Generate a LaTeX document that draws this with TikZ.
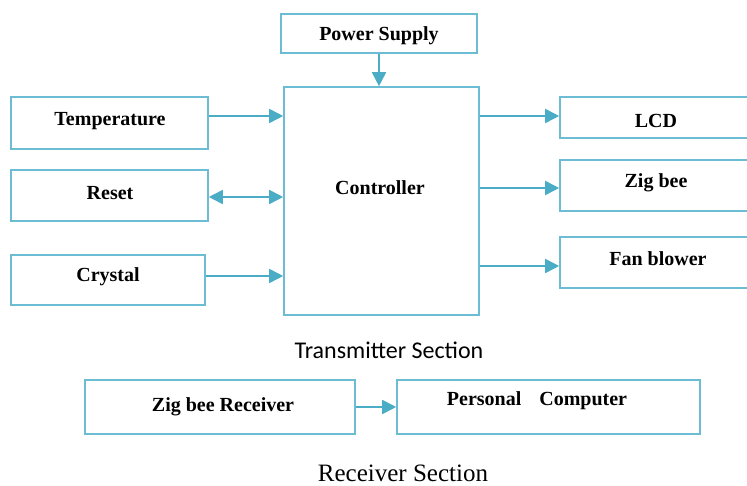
\documentclass[tikz,border=0pt]{standalone}
\usepackage{fontspec}
\setmainfont{Liberation Serif}
\newfontfamily\calib{Carlito}
\usetikzlibrary{arrows.meta}
\definecolor{boxc}{HTML}{6CBDD3}
\definecolor{arrc}{HTML}{4BACC6}
\tikzset{
  blk/.style={draw=boxc, line width=1.6pt, inner sep=0pt},
  lbl/.style={font=\fontsize{20}{23}\selectfont\bfseries},
  conn/.style={draw=arrc, line width=1.8pt, -{Triangle[length=14pt,width=14pt]}},
  dconn/.style={draw=arrc, line width=1.8pt, {Triangle[length=14pt,width=14pt]}-{Triangle[length=14pt,width=14pt]}}
}
\begin{document}
\begin{tikzpicture}[x=1pt,y=-1pt]
\useasboundingbox (0,0) rectangle (747,486);
% boxes
\node[blk, minimum width=196pt, minimum height=39pt] (ps) at (379,33.5) {};
\node[lbl] (pst) at (379,36) {Power Supply};
\node[blk, minimum width=195pt, minimum height=228pt] (ctrl) at (381.5,201) {};
\node[lbl] (ctrlt) at (380,188) {Controller};
\node[blk, minimum width=197pt, minimum height=52pt] (temp) at (109.5,123) {};
\node[lbl] (tempt) at (110,121) {Temperature};
\node[blk, minimum width=197pt, minimum height=51pt] (reset) at (109.5,195.5) {};
\node[lbl] (resett) at (110,193) {Reset};
\node[blk, minimum width=194pt, minimum height=50pt] (cry) at (108,280) {};
\node[lbl] (cryt) at (108,277) {Crystal};
\node[blk, minimum width=200pt, minimum height=41pt] (lcd) at (660,117.5) {};
\node[lbl] (lcdt) at (656,121) {LCD};
\node[blk, minimum width=200pt, minimum height=51pt] (zig) at (660,185.5) {};
\node[lbl] (zigt) at (656,183) {Zig bee};
\node[blk, minimum width=200pt, minimum height=51pt] (fan) at (660,262.5) {};
\node[lbl] (fant) at (658,259) {Fan blower};
\node[font=\calib\fontsize{24}{28}\selectfont] (tx) at (389,350) {Transmitter Section};
\node[blk, minimum width=270pt, minimum height=54pt] (zr) at (220,407) {};
\node[lbl] (zrt) at (223,407) {Zig bee Receiver};
\node[blk, minimum width=303pt, minimum height=54pt] (pc) at (548.5,407) {};
\node[lbl] (pct) at (537,401) {Personal\hspace{0.9em}Computer};
\node[font=\fontsize{25}{28}\selectfont, anchor=base, inner sep=0pt] (rx) at (403,481) {Receiver Section};
% connectors
\draw[conn] (ps.south) -- (ctrl.north -| ps.south);
\draw[conn] (temp.east |- 0,116) -- (ctrl.west |- 0,116);
\draw[dconn] (reset.east |- 0,197) -- (ctrl.west |- 0,197);
\draw[conn] (cry.east |- 0,276) -- (ctrl.west |- 0,276);
\draw[conn] (ctrl.east |- 0,116) -- (lcd.west |- 0,116);
\draw[conn] (ctrl.east |- 0,188) -- (zig.west |- 0,188);
\draw[conn] (ctrl.east |- 0,266) -- (fan.west |- 0,266);
\draw[conn] (zr.east) -- (pc.west);
\end{tikzpicture}
\end{document}
